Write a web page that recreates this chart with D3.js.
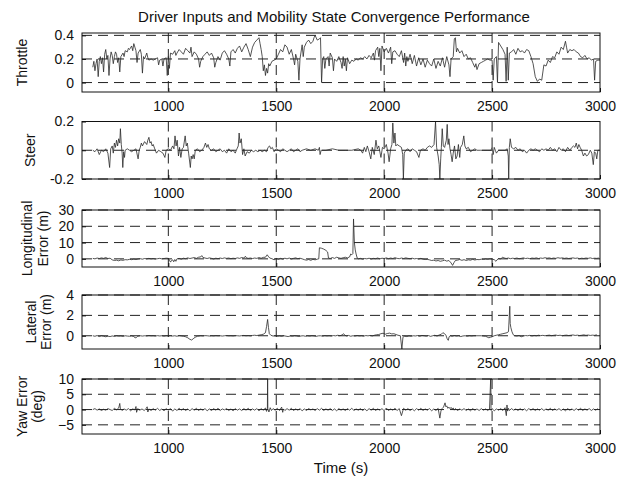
<!DOCTYPE html>
<html><head><meta charset="utf-8">
<script src="https://cdn.jsdelivr.net/npm/d3@7"></script>
<style>body{margin:0;background:#fff}svg{display:block}text{font-family:"Liberation Sans",Arial,Helvetica,sans-serif;fill:#111}</style>
</head><body>
<script>
// ---------- data ----------
const xTicks = [1000, 1500, 2000, 2500, 3000];

const throttleT = [650,655,660,665,670,675,680,685,690,695,700,705,710,715,720,725,730,735,740,745,750,755,760,765,770,775,780,790,795,800,810,815,820,830,835,840,845,850,855,860,870,875,880,885,890,900,905,910,920,930,940,950,955,960,970,975,980,990,995,1000,1005,1010,1020,1030,1035,1040,1050,1060,1070,1080,1090,1100,1105,1110,1120,1130,1140,1145,1150,1160,1170,1180,1190,1200,1210,1215,1220,1230,1240,1250,1260,1270,1280,1285,1290,1300,1310,1320,1330,1340,1350,1360,1370,1380,1390,1400,1410,1420,1425,1430,1435,1440,1445,1450,1455,1460,1465,1470,1480,1490,1500,1510,1520,1530,1540,1550,1560,1570,1580,1585,1590,1600,1605,1610,1620,1625,1630,1640,1650,1660,1670,1675,1680,1690,1700,1705,1710,1715,1720,1725,1730,1740,1745,1750,1760,1765,1770,1780,1790,1800,1805,1810,1815,1820,1825,1830,1840,1850,1860,1870,1880,1890,1900,1910,1920,1930,1940,1950,1955,1960,1970,1975,1980,1985,1990,2000,2010,2020,2030,2035,2040,2050,2060,2070,2080,2090,2095,2100,2105,2110,2120,2130,2140,2150,2160,2170,2180,2190,2200,2210,2220,2230,2240,2250,2260,2270,2280,2290,2300,2305,2310,2320,2325,2330,2335,2340,2350,2360,2370,2380,2390,2400,2410,2420,2425,2430,2440,2450,2460,2470,2480,2490,2500,2505,2510,2520,2525,2530,2540,2550,2560,2565,2570,2575,2580,2590,2600,2610,2620,2630,2640,2650,2660,2670,2680,2690,2700,2710,2720,2730,2740,2750,2760,2770,2780,2790,2800,2810,2820,2830,2840,2845,2850,2860,2870,2880,2890,2900,2910,2920,2930,2940,2950,2960,2970,2975,2980,2990,3000];
const throttle = [.13,.18,.10,.16,.20,.05,.18,.22,.16,.21,.09,.24,.28,.20,.23,.06,.20,.26,.23,.16,.22,.26,.24,.17,.21,.09,.22,.25,.22,.27,.26,.29,.28,.31,.27,.33,.30,.27,.17,.25,.28,.24,.08,.22,.20,.25,.21,.19,.20,.19,.20,.21,.15,.19,.20,.14,.20,.21,.06,.22,.12,.25,.24,.27,.23,.25,.28,.26,.24,.29,.27,.25,.30,.22,.26,.24,.20,.13,.18,.22,.24,.26,.23,.25,.21,.13,.17,.22,.19,.25,.27,.24,.20,.14,.26,.28,.25,.29,.31,.26,.30,.33,.28,.22,.30,.34,.36,.38,.33,.28,.22,.10,.15,.06,.12,.08,.16,.14,.18,.19,.20,.24,.28,.26,.32,.30,.24,.28,.20,.15,.24,.18,.02,.20,.32,.22,.30,.34,.36,.33,.35,.38,.40,.36,.37,.38,.00,.20,.22,.12,.20,.22,.14,.25,.21,.10,.20,.18,.22,.17,.12,.22,.14,.20,.10,.21,.16,.19,.18,.20,.19,.21,.20,.22,.20,.23,.21,.25,.19,.27,.30,.22,.29,.10,.31,.26,.29,.25,.30,.16,.26,.27,.24,.22,.27,.17,.25,.14,.22,.18,.24,.16,.23,.14,.21,.15,.20,.13,.19,.16,.14,.20,.12,.18,.14,.21,.13,.22,.15,.05,.20,.22,.37,.38,.26,.29,.25,.27,.22,.24,.20,.21,.17,.13,.16,.11,.16,.17,.18,.19,.20,.19,.19,.02,.20,.22,.00,.34,.31,.28,.24,.01,.30,.02,.25,.26,.28,.24,.29,.26,.27,.25,.28,.27,.22,.16,.05,.01,.03,.02,.15,.14,.19,.17,.22,.21,.26,.24,.30,.28,.35,.30,.25,.28,.27,.28,.26,.25,.22,.21,.23,.20,.21,.19,.20,.02,.18,.19,.19];

const steerT = [650,660,670,680,690,700,710,720,728,733,740,745,750,755,760,765,770,775,778,782,786,789,793,797,800,810,820,830,840,850,860,865,870,875,880,890,900,905,910,915,920,925,930,937,945,955,965,975,984,990,1000,1010,1020,1026,1031,1036,1041,1047,1052,1058,1064,1070,1078,1083,1088,1094,1102,1106,1110,1115,1120,1125,1135,1145,1155,1165,1172,1178,1184,1190,1200,1210,1220,1230,1240,1250,1260,1270,1280,1290,1300,1310,1318,1324,1328,1332,1338,1344,1350,1356,1365,1375,1385,1395,1405,1415,1425,1435,1445,1455,1462,1469,1475,1482,1490,1500,1510,1520,1530,1540,1550,1560,1570,1580,1590,1600,1610,1620,1640,1660,1680,1695,1700,1703,1708,1730,1760,1790,1820,1850,1880,1892,1900,1908,1915,1922,1930,1938,1945,1954,1962,1968,1975,1985,1992,2000,2010,2018,2023,2030,2036,2040,2045,2050,2054,2060,2070,2080,2086,2089,2093,2100,2110,2120,2130,2140,2150,2161,2168,2180,2190,2200,2210,2220,2231,2238,2243,2250,2255,2258,2262,2265,2269,2274,2280,2288,2292,2296,2300,2305,2310,2315,2320,2326,2332,2338,2344,2350,2354,2362,2369,2374,2380,2390,2400,2410,2420,2430,2446,2460,2480,2495,2500,2505,2510,2515,2520,2530,2560,2570,2575,2577,2580,2584,2590,2600,2610,2620,2630,2640,2650,2660,2670,2680,2690,2700,2710,2720,2730,2740,2750,2760,2770,2780,2790,2800,2810,2820,2830,2840,2850,2860,2870,2877,2884,2890,2896,2902,2908,2915,2923,2930,2938,2946,2955,2962,2969,2974,2980,2985,2990,2998];
const steer = [0,-0.01,0.01,-0.03,0,-0.01,0.01,-0.02,-0.12,0.01,0.03,-0.02,0.05,0.02,0.07,0.03,0.08,0.05,0.15,0.04,-0.02,-0.12,-0.01,-0.05,0,0.01,0,-0.01,0,0.01,-0.06,0,0.02,0.05,0.03,0.06,0.04,0.07,0.09,0.05,0.06,0.03,0.04,0.01,-0.02,0,-0.01,-0.02,-0.05,0,0.01,0,0.03,0.01,0.10,0.03,0.07,-0.04,0.02,-0.05,0.01,0.02,0.10,0.03,0.05,-0.02,-0.12,-0.04,-0.06,-0.03,-0.06,0,0.01,-0.01,0,0.02,0.05,0.02,0.04,0.01,0,0.01,-0.01,0,0.01,-0.01,0,-0.02,0.01,-0.01,0,-0.02,0.01,0.03,0.12,0.05,0.08,-0.03,0.01,-0.04,-0.01,-0.02,0,-0.01,0,-0.01,0,-0.01,0,-0.01,0.02,0.03,0.01,0.02,-0.01,0.01,0,-0.01,0.01,0,-0.01,0,0.01,-0.01,0,0.01,-0.01,0,0.01,0,0.01,0,0.02,-0.03,0,0,0.01,0,0,0,0.01,0,-0.02,0.02,-0.01,0.03,-0.01,-0.06,0.02,-0.03,0.07,0.01,0.03,-0.05,0.02,0.01,0.04,-0.02,-0.08,0.01,0.04,0.19,0.05,0.12,0.03,0.04,0.03,0.02,-0.03,-0.20,-0.02,0,0.01,-0.01,0.01,0,-0.01,-0.05,0,0.01,0,0.02,0.03,0.02,0.04,0.20,0.02,-0.04,-0.10,-0.20,-0.06,0.02,0.15,0.03,0.02,0.07,0.18,0.04,0.08,0.01,-0.03,-0.08,-0.02,0.03,-0.06,-0.04,0.04,-0.05,0.02,0.04,0.10,0.03,0.01,0.02,-0.01,0,0.01,0,0,0,0,0,0.02,-0.03,0.02,0,-0.02,0,0,0.01,-0.04,-0.20,0.02,0.08,0.02,0.01,0.02,0,0.01,-0.01,0,-0.02,0,0.01,0,0.01,0,-0.01,0.01,0,0.01,0,0.02,0,0.01,-0.01,0.02,0,0.01,-0.01,0.02,0,0.02,0.03,0.02,0.05,0.01,0.04,0.02,0,-0.04,-0.02,-0.04,-0.03,0,-0.02,-0.10,-0.01,-0.02,-0.06,0,0];

const longT = [650,660,670,680,690,700,710,720,730,740,750,760,770,780,790,800,810,820,830,840,850,860,870,880,890,900,910,920,930,940,950,960,970,980,990,1000,1005,1010,1015,1020,1025,1030,1035,1040,1050,1060,1070,1080,1090,1100,1110,1120,1130,1140,1150,1155,1160,1170,1180,1190,1200,1210,1220,1230,1240,1250,1260,1270,1280,1290,1300,1310,1320,1330,1340,1350,1357,1362,1370,1380,1390,1400,1410,1420,1430,1440,1450,1458,1465,1470,1480,1490,1500,1510,1520,1530,1540,1550,1560,1570,1580,1590,1600,1610,1620,1630,1640,1650,1660,1670,1680,1690,1697,1700,1710,1720,1730,1738,1742,1750,1760,1770,1780,1790,1800,1810,1820,1830,1840,1845,1850,1855,1858,1862,1866,1870,1875,1880,1890,1900,1910,1920,1930,1940,1950,1960,1970,1980,1990,2000,2010,2020,2030,2040,2050,2060,2070,2080,2090,2100,2110,2120,2130,2140,2150,2160,2170,2180,2190,2200,2210,2220,2230,2240,2250,2260,2270,2280,2290,2300,2310,2317,2324,2330,2340,2350,2360,2370,2380,2390,2400,2410,2420,2430,2440,2450,2460,2470,2480,2490,2500,2510,2518,2523,2530,2540,2548,2555,2565,2575,2585,2595,2605,2615,2625,2635,2645,2655,2665,2675,2685,2695,2705,2715,2725,2735,2745,2755,2765,2775,2785,2795,2805,2815,2825,2835,2845,2855,2865,2875,2885,2895,2905,2915,2925,2935,2945,2955,2965,2975,2985,2995];
const longErr = [0.3,0,0.5,0.2,0.6,0.3,0.8,0.2,0.4,-0.6,-1.0,-0.8,-1.2,-0.7,-0.9,-0.5,-0.6,-0.3,-0.5,-0.2,-0.4,-0.1,0.1,-0.2,0.2,0,0.3,0,0.2,-0.1,0.1,0.3,0,0.2,0.4,0.3,-0.8,-2.0,-1.0,-0.6,-1.8,-0.4,-1.5,0,0.3,-0.2,0.4,0.1,0.6,0.2,0.5,0.8,0.3,1.0,1.2,2.0,0.9,0.5,0.2,0.6,0.3,-0.1,0.4,0.1,0.5,0.2,0.6,0.3,0.5,0.1,0.4,0.2,0.6,0.3,0.8,0.5,1.6,0.6,0.3,0.5,0.2,0.5,0.3,0.8,0.4,0.9,1.0,2.5,1.2,0.5,0.1,-0.6,0.2,-0.3,0.3,-0.2,0.4,0,0.5,-0.1,0.3,0.6,0.1,0.4,0,-0.5,-0.8,-0.4,-0.9,-0.3,-0.6,-0.2,0,6.8,6.5,6.0,5.2,4.2,0.5,0.2,0.8,0.3,1.0,0.6,0.3,0.7,1.0,0.6,1.2,3.0,2.5,3.2,24.5,10.0,5.5,3.0,0.5,0,0.3,-0.2,0.2,0,0.4,-0.1,0.3,0.1,0.5,0,0.4,0.2,0.6,0.1,0.5,0.2,0.7,0.3,0.1,0.5,0.2,0.6,0.3,0.1,0.4,0,0.2,-0.1,0.3,-0.2,-0.4,-0.3,-0.6,-1.0,-0.8,-1.3,-1.0,-1.5,-1.2,-0.8,-1.4,-1.0,-2.5,-4.0,-2.2,-1.0,-0.8,-0.4,-0.9,-0.5,-1.0,-0.6,-0.8,-0.3,-0.7,-0.4,-0.5,-0.2,-0.4,-0.1,-0.3,0,-0.2,-0.5,-1.5,-0.6,0.2,-0.1,1.0,0.6,0.2,0.5,0.1,0.4,0.2,0.5,0.1,0.3,0.6,0.2,0.4,0.1,0.5,0.3,0.6,0.2,0.5,0.3,0.7,0.4,0.6,0.2,0.5,0.3,0.7,0.4,0.6,0.3,0.5,0.2,0.4,0.6,0.3,0.5,0.1,0.4,0.2,0.5,0.3,0.6,0.2,0.4,0.3,0.5];

const latT = [650,660,670,680,690,700,710,720,730,740,750,760,770,780,790,800,810,820,830,840,846,852,858,870,880,890,900,910,920,930,940,950,960,970,980,990,1000,1010,1020,1030,1040,1050,1060,1070,1080,1090,1100,1108,1115,1124,1135,1150,1160,1170,1180,1190,1200,1210,1220,1230,1240,1250,1260,1270,1280,1290,1300,1310,1320,1330,1340,1350,1360,1370,1380,1390,1400,1410,1420,1430,1440,1450,1455,1460,1464,1468,1475,1485,1495,1505,1515,1525,1535,1545,1555,1565,1575,1585,1595,1605,1615,1625,1635,1645,1655,1665,1675,1685,1695,1705,1715,1725,1735,1745,1755,1765,1775,1785,1795,1805,1812,1818,1825,1835,1845,1855,1865,1875,1885,1895,1905,1915,1925,1935,1945,1955,1965,1975,1985,1995,2005,2015,2025,2035,2045,2055,2064,2075,2082,2087,2090,2095,2105,2115,2125,2135,2145,2155,2165,2175,2185,2195,2205,2215,2225,2235,2245,2255,2265,2272,2280,2286,2292,2297,2301,2306,2315,2325,2335,2345,2355,2365,2375,2385,2395,2405,2415,2430,2450,2470,2485,2492,2500,2510,2520,2530,2540,2550,2560,2569,2576,2582,2584,2587,2592,2598,2605,2615,2625,2635,2645,2655,2665,2675,2685,2695,2705,2715,2725,2735,2745,2755,2765,2775,2785,2795,2805,2815,2825,2835,2845,2855,2865,2875,2885,2895,2905,2915,2925,2935,2945,2955,2965,2975,2985,2995];
const latErr = [0,-0.05,0.02,-0.08,0,-0.05,-0.1,-0.04,-0.08,-0.02,-0.06,0,-0.04,-0.02,-0.06,0,-0.03,-0.05,-0.01,-0.08,-0.2,-0.18,-0.05,0,-0.03,0,-0.02,0.02,-0.01,0,-0.03,0.01,-0.02,0,-0.04,0,-0.02,0.01,-0.03,0,-0.05,0.02,-0.02,-0.05,-0.1,-0.2,-0.35,-0.42,-0.3,-0.15,-0.05,0,-0.02,0.01,0,-0.03,0,-0.02,0.01,-0.01,0,-0.03,0,0.02,-0.01,0,-0.02,0.01,0,-0.02,0.01,0.03,0,0.02,-0.01,0.03,0.05,0.02,0.06,0.1,0.15,0.3,0.9,1.6,0.8,0.2,0.05,-0.03,0,-0.05,-0.02,-0.06,0,-0.04,-0.08,-0.02,-0.05,0,-0.03,-0.07,-0.02,0,-0.05,-0.01,-0.04,0,-0.02,-0.06,-0.01,0,-0.04,0.01,-0.02,0,-0.03,0.02,-0.01,0.05,0,0.08,0.2,0.05,-0.02,0.03,-0.05,0,-0.03,0.02,-0.02,0,-0.04,0.02,-0.01,0.03,-0.02,0.05,0.1,0.12,0.2,0.25,0.15,0.22,0.26,0.18,0.2,0.12,0.05,0,-1.3,-0.15,-0.1,-0.05,-0.08,-0.02,-0.05,0,-0.02,0.02,-0.05,0.03,0,-0.04,0.02,-0.06,0,0.05,-0.03,0.08,0.15,0.3,0.2,0.05,-0.3,-0.45,-0.1,0,-0.05,0.02,-0.03,0,-0.08,-0.02,0,-0.05,0,-0.03,0,0,0,-0.05,-0.2,-0.15,-0.1,0,0.05,0.1,0.15,0.2,0.25,0.3,0.4,2.9,1.2,0.8,0.4,0.1,0,-0.03,0.02,-0.1,-0.02,0.02,0,0.04,-0.02,0.03,0,0.05,0.01,0.04,0,0.03,0.06,0.01,0.04,0.07,0.02,0.05,0,0.04,0.06,0.02,0.05,0.08,0.03,0.06,0.02,0.05,0.09,0.04,0.07,0.03,0.06,0.04,0.1];

const yawT = [650,660,670,680,690,700,710,720,730,740,750,760,770,775,778,785,795,805,815,825,835,845,850,853,858,868,878,888,898,902,905,910,920,930,940,950,960,970,980,990,1000,1010,1020,1030,1040,1050,1060,1070,1080,1090,1100,1110,1120,1130,1140,1150,1160,1170,1180,1190,1200,1210,1220,1230,1240,1250,1260,1270,1280,1290,1300,1310,1320,1330,1340,1350,1360,1370,1380,1390,1400,1410,1420,1430,1440,1450,1455,1459,1460,1461,1466,1472,1478,1485,1495,1505,1515,1525,1530,1533,1540,1550,1560,1570,1580,1590,1600,1610,1620,1630,1640,1650,1660,1670,1680,1690,1700,1710,1720,1730,1740,1750,1760,1770,1780,1790,1800,1810,1820,1830,1840,1850,1860,1870,1880,1890,1900,1910,1920,1930,1940,1950,1960,1970,1980,1990,2000,2010,2020,2030,2040,2050,2060,2070,2080,2087,2090,2100,2110,2120,2130,2140,2150,2160,2170,2180,2190,2200,2210,2220,2230,2240,2250,2258,2263,2268,2275,2282,2286,2290,2295,2300,2305,2310,2315,2320,2325,2330,2340,2350,2360,2370,2380,2390,2400,2410,2420,2430,2440,2450,2460,2470,2480,2488,2494,2495,2496,2500,2510,2520,2530,2540,2550,2560,2566,2569,2572,2576,2580,2590,2600,2610,2620,2630,2640,2650,2660,2670,2680,2690,2700,2710,2720,2730,2740,2750,2760,2770,2780,2790,2800,2810,2820,2830,2840,2850,2860,2870,2880,2890,2900,2910,2920,2930,2940,2950,2960,2970,2980,2990,3000];
const yawErr = [0,0.3,-0.2,0.2,-0.3,0.1,-0.2,0.3,0,-0.3,0.4,-0.1,0.5,2.0,0.2,-0.3,0.2,-0.2,0.3,-0.4,0.2,-0.1,1.0,-0.9,0.3,-0.2,0.2,-0.3,0.4,0.9,-0.8,0.2,-0.3,0.3,-0.2,0.4,-0.3,0.2,-0.4,0.3,-0.2,0.3,-0.5,0.2,-0.3,0.4,-0.2,0.3,-0.3,0.2,-0.4,0.3,-0.2,0.4,-0.3,0.2,-0.2,0.3,-0.4,0.2,-0.3,0.3,-0.2,0.4,-0.3,0.2,-0.1,0.3,-0.3,0.2,-0.4,0.3,-0.2,0.2,-0.3,0.3,-0.2,0.4,-0.3,0.2,-0.2,0.3,-0.4,0.3,-0.2,0.5,-0.6,0.4,11,0.3,-0.8,0.6,-0.3,0.3,-0.2,0.4,-0.3,0.8,-0.9,0.2,-0.3,0.3,-0.2,0.4,-0.3,0.2,-0.2,0.3,-0.4,0.2,-0.3,0.3,-0.1,0.2,-0.3,0.3,-0.2,0.4,-0.3,0.2,-0.2,0.3,-0.3,0.2,-0.4,0.3,-0.2,0.2,-0.3,0.3,-0.2,0.4,-0.3,0.2,-0.2,0.3,-0.3,0.2,-0.4,0.3,-0.2,0.4,-0.3,0.2,-0.2,0.3,-0.4,0.5,-0.3,0.2,-0.2,0.4,-0.3,0.3,-2.0,-0.3,0.4,-0.2,0.3,-0.3,0.2,-0.4,0.3,-0.2,0.4,-0.3,0.2,-0.2,0.3,-0.4,0.2,-0.3,0.4,-2.8,-0.5,0.3,0.8,2.2,0.9,1.2,0.4,0.8,0.3,0.7,0.2,0.5,-0.2,0.3,-0.3,0.2,-0.2,0.3,-0.3,0.2,-0.4,0.3,-0.2,0.2,-0.3,0.3,-0.2,0.2,-0.3,0.2,11,0.2,-0.3,0.3,-0.4,0.2,-0.2,0.3,-0.3,0.6,-2.0,1.5,-0.5,0.4,-0.3,0.3,-0.2,0.2,-0.3,0.3,-0.2,0.2,-0.4,0.3,-0.2,0.3,-0.3,0.2,-0.2,0.3,-0.3,0.2,-0.2,0.4,-0.3,0.2,-0.2,0.3,-0.3,0.2,-0.4,0.3,-0.2,0.2,-0.3,0.3,-0.2,0.4,-0.3,0.2,-0.2,0.3,-0.3,0.2,-0.2,0.3];

// ---------- panels ----------
const panels = [
  {t: throttleT, v: throttle, dom: [-0.08, 0.42], rng: [92, 33], yt: [0, 0.2, 0.4], fmt: d => d === 0 ? "0" : d.toFixed(1), lab: ["Throttle"], lx: [22]},
  {t: steerT, v: steer, dom: [-0.2, 0.2], rng: [179, 121.5], yt: [-0.2, 0, 0.2], fmt: d => d === 0 ? "0" : d.toFixed(1), lab: ["Steer"], lx: [30]},
  {t: longT, v: longErr, dom: [-5, 30], rng: [267, 210], yt: [0, 10, 20, 30], fmt: d3.format("d"), lab: ["Longitudinal", "Error (m)"], lx: [27, 43]},
  {t: latT, v: latErr, dom: [-1.3, 4], rng: [349, 295], yt: [0, 2, 4], fmt: d3.format("d"), lab: ["Lateral", "Error (m)"], lx: [31, 46]},
  {t: yawT, v: yawErr, dom: [-8, 10], rng: [434, 379], yt: [-5, 0, 5, 10], fmt: d3.format("d"), lab: ["Yaw Error", "(deg)"], lx: [22, 37]}
];

const W = 626, H = 477;
const svg = d3.select("body").append("svg").attr("width", W).attr("height", H);
const x = d3.scaleLinear().domain([600, 3000]).range([82, 600]);

svg.append("text").attr("x", 334).attr("y", 22).attr("text-anchor", "middle")
  .style("font-size", "15px").text("Driver Inputs and Mobility State Convergence Performance");

panels.forEach((p, i) => {
  const y = d3.scaleLinear().domain(p.dom).range(p.rng);
  const g = svg.append("g");
  const top = p.rng[1], bot = p.rng[0];
  g.append("clipPath").attr("id", "c" + i).append("rect")
    .attr("x", 82).attr("y", top).attr("width", 518).attr("height", bot - top);

  // grid
  g.selectAll(".hg").data(p.yt).join("line")
    .attr("x1", 82).attr("x2", 600).attr("y1", d => y(d)).attr("y2", d => y(d))
    .attr("stroke", "#222").attr("stroke-width", 1).attr("stroke-dasharray", "10,6");
  g.selectAll(".vg").data(xTicks.slice(0, -1)).join("line")
    .attr("x1", d => x(d)).attr("x2", d => x(d)).attr("y1", top).attr("y2", bot)
    .attr("stroke", "#222").attr("stroke-width", 1).attr("stroke-dasharray", "10,6");

  // data
  const pts = p.t.map((t, k) => [t, p.v[k]]);
  g.append("path").datum(pts).attr("clip-path", `url(#c${i})`)
    .attr("fill", "none").attr("stroke", "#2a2a2a").attr("stroke-width", 0.8)
    .attr("d", d3.line().x(d => x(d[0])).y(d => y(d[1])));

  // box
  g.append("rect").attr("x", 82).attr("y", top).attr("width", 518).attr("height", bot - top)
    .attr("fill", "none").attr("stroke", "#111").attr("stroke-width", 1);

  // axes (ticks inward)
  const ax = g.append("g").attr("transform", `translate(0,${bot})`)
    .call(d3.axisBottom(x).tickValues(xTicks).tickSizeInner(-4).tickSizeOuter(0).tickPadding(9).tickFormat(d3.format("d")));
  ax.select(".domain").remove();
  ax.selectAll("text").style("font-size", "14px").attr("fill", "#111");
  ax.selectAll("line").attr("stroke", "#111");

  const ay = g.append("g").attr("transform", "translate(82,0)")
    .call(d3.axisLeft(y).tickValues(p.yt).tickSizeInner(-4).tickSizeOuter(0).tickPadding(8).tickFormat(p.fmt));
  ay.select(".domain").remove();
  ay.selectAll("text").style("font-size", "14px").attr("fill", "#111");
  ay.selectAll("line").attr("stroke", "#111");

  // y label
  const cy = (top + bot) / 2;
  p.lab.forEach((s, k) => {
    svg.append("text").attr("transform", `translate(${p.lx[k]},${cy}) rotate(-90)`)
      .attr("text-anchor", "middle").attr("dy", "0.35em").style("font-size", "14px").text(s);
  });
});

svg.append("text").attr("x", 341).attr("y", 473).attr("text-anchor", "middle")
  .style("font-size", "15px").text("Time (s)");
</script>
</body></html>
